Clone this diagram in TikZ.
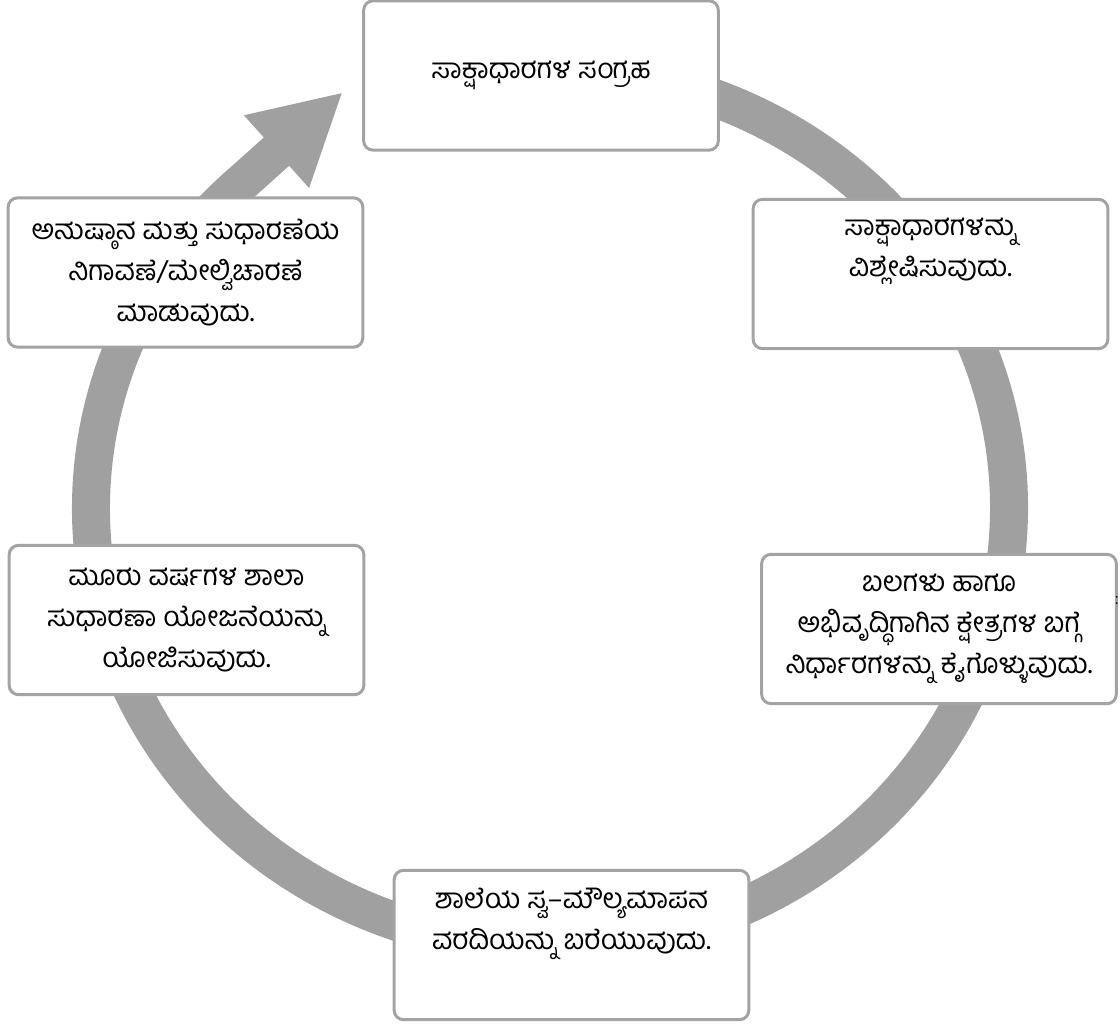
\documentclass[tikz,border=0pt]{standalone}
\usepackage{fontspec}
\newfontfamily\kannada[Script=Kannada]{Hind Mysuru}
\usetikzlibrary{arrows.meta}
\definecolor{ringgray}{RGB}{160,160,160}
\definecolor{boxgray}{RGB}{163,163,163}
\tikzset{
  stepbox/.style={draw=boxgray, line width=2.25pt, rounded corners=7pt, fill=white,
    minimum width=266pt, minimum height=112pt, align=center,
    font=\kannada\fontsize{21}{30.75}\selectfont},
  ring/.style={ringgray, line width=28.5pt, -{Triangle[length=67pt, width=68pt]}}
}
\begin{document}
\begin{tikzpicture}[x=0.75pt, y=-0.75pt]
    \useasboundingbox (0,0) rectangle (1120,1027);

    % Desenha o anel
    \draw[ring] ({550+459*cos(-84)},{508+439*sin(-84)})
        arc[start angle=-84, end angle=228, x radius=459, y radius=439] -- (343,92);

    % caixas
    \node[stepbox] (collect) at (541,75.5) {ಸಾಕ್ಷಾಧಾರಗಳ ಸಂಗ್ರಹ};
    \node[stepbox] (analyse) at (930.5,274) {ಸಾಕ್ಷಾಧಾರಗಳನ್ನು\\ವಿಶ್ಲೇಷಿಸುವುದು.\\\strut};
    \node[stepbox] (decide) at (939,629) {ಬಲಗಳು ಹಾಗೂ\\ಅಭಿವೃದ್ಧಿಗಾಗಿನ ಕ್ಷೇತ್ರಗಳ ಬಗ್ಗೆ\\ನಿರ್ಧಾರಗಳನ್ನು ಕೈಗೊಳ್ಳುವುದು.};
    \node[stepbox] (report) at (571.5,945) {ಶಾಲೆಯ ಸ್ವ–ಮೌಲ್ಯಮಾಪನ\\ವರದಿಯನ್ನು ಬರೆಯುವುದು.\\\strut};
    \node[stepbox] (plan) at (186.5,620) {ಮೂರು ವರ್ಷಗಳ ಶಾಲಾ\\ಸುಧಾರಣಾ ಯೋಜನೆಯನ್ನು\\ಯೋಜಿಸುವುದು.};
    \node[stepbox] (monitor) at (185.5,272.5) {ಅನುಷ್ಠಾನ ಮತ್ತು ಸುಧಾರಣೆಯ\\ನಿಗಾವಣೆ/ಮೇಲ್ವಿಚಾರಣೆ\\ಮಾಡುವುದು.};

    \node[font=\fontsize{14}{14}\selectfont] (stray) at (1117,600) {:};
\end{tikzpicture}
\end{document}
